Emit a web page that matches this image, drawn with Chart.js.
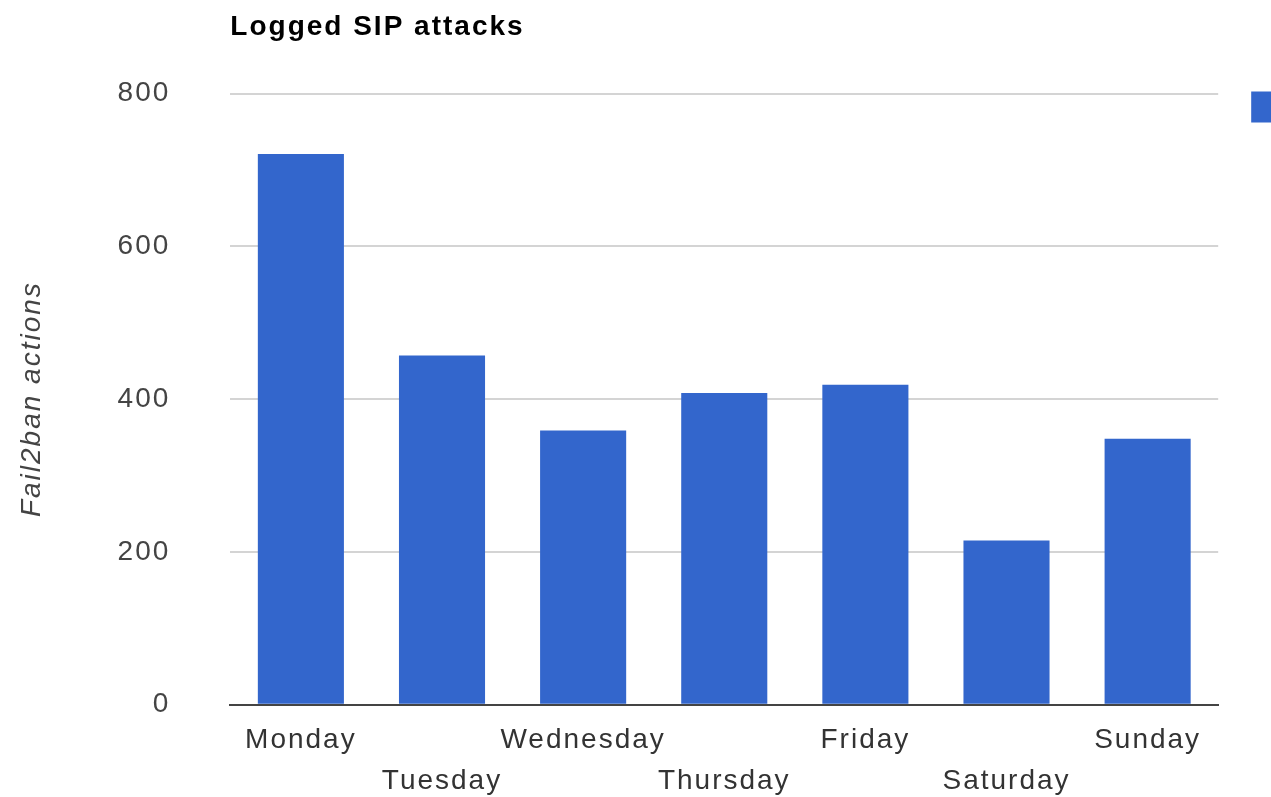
<!DOCTYPE html>
<html>
<head>
<meta charset="utf-8">
<script src="https://cdn.jsdelivr.net/npm/chart.js@4.4.1/dist/chart.umd.min.js"></script>
<style>
  html, body { margin: 0; padding: 0; background: #fff; overflow: hidden; }
  .wrap { width: 1412px; height: 797px; position: relative; }
</style>
</head>
<body>
<div class="wrap"><canvas id="chart"></canvas></div>
<script>
const categories = ["Monday", "Tuesday", "Wednesday", "Thursday", "Friday", "Saturday", "Sunday"];
const attacks = [721, 457, 359, 408, 419, 215, 348];
const yTicks = [0, 200, 400, 600, 800];

// staggered labels: every second day goes on the second row
const xLabels = categories.map((c, i) => (i % 2 === 0 ? [c, ""] : ["", c]));

const fontFamily = "'Liberation Sans', Arial, sans-serif";

// canvas letter spacing, the reference text is spread out a bit
const spacing = {
  id: "spacing",
  set(chart) { chart.ctx.letterSpacing = "2px"; },
  beforeInit(chart) { this.set(chart); },
  beforeUpdate(chart) { this.set(chart); },
  beforeLayout(chart) { this.set(chart); },
  beforeDraw(chart) { this.set(chart); },
  resize(chart) { this.set(chart); }
};

const ctx = document.getElementById("chart").getContext("2d");
const myChart = new Chart(ctx, {
  type: "bar",
  data: {
    labels: xLabels,
    datasets: [
      {
        label: "Attacks",
        data: attacks,
        backgroundColor: "#3366cc",
        borderWidth: 0,
        barPercentage: 0.61,
        categoryPercentage: 1
      }
    ]
  },
  options: {
    responsive: true,
    maintainAspectRatio: false,
    animation: false,
    layout: { padding: { left: 15, right: 0, top: 0, bottom: -20 } },
    plugins: {
      title: {
        display: true,
        text: "Logged SIP attacks",
        align: "start",
        fullSize: false,
        color: "#000",
        font: { family: fontFamily, size: 28, weight: "bold" },
        padding: { top: 10, bottom: 50 }
      },
      legend: {
        display: true,
        position: "right",
        align: "start",
        title: { display: true, text: " ", padding: { top: 25, bottom: 0 }, font: { size: 28 } },
        labels: {
          boxWidth: 31,
          boxHeight: 31,
          padding: 33,
          color: "#222",
          font: { family: fontFamily, size: 28 }
        }
      },
      tooltip: { enabled: false }
    },
    scales: {
      x: {
        grid: { display: false, drawTicks: false },
        border: { display: true, color: "#444", width: 2 },
        ticks: {
          color: "#333",
          autoSkip: false,
          maxRotation: 0,
          padding: 15,
          font: { family: fontFamily, size: 28, lineHeight: 1.47 }
        }
      },
      y: {
        min: yTicks[0],
        max: yTicks[yTicks.length - 1],
        afterBuildTicks(scale) {
          scale.ticks = yTicks.map(v => ({ value: v }));
        },
        grid: { color: "#d4d4d4", lineWidth: 2, drawTicks: false },
        border: { display: false },
        ticks: {
          color: "#444",
          padding: 60,
          font: { family: fontFamily, size: 28 }
        },
        title: {
          display: true,
          text: "Fail2ban actions",
          color: "#444",
          padding: { top: 0, bottom: 9 },
          font: { family: fontFamily, size: 28, style: "italic" }
        }
      }
    }
  },
  plugins: [spacing]
});
</script>
</body>
</html>
